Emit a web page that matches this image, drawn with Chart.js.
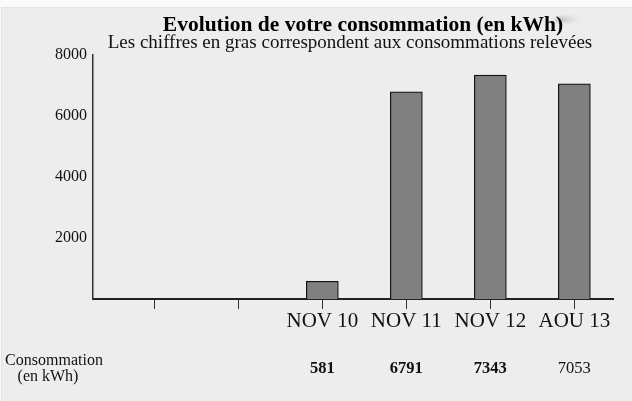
<!DOCTYPE html>
<html>
<head>
<meta charset="utf-8">
<script src="https://cdn.jsdelivr.net/npm/chart.js@4.4.1/dist/chart.umd.min.js"></script>
<style>
  html, body { margin: 0; padding: 0; background: #fafafa; }
  #wrap { position: relative; width: 632px; height: 401px; }
</style>
</head>
<body>
<div id="wrap"><canvas id="c" width="632" height="401"></canvas></div>
<script>
// ---- data ----
const categories = ['', '', 'NOV 10', 'NOV 11', 'NOV 12', 'AOU 13'];
const consommation = [null, null, 581, 6791, 7343, 7053];
const releve = [false, false, true, true, true, false];
const yTicks = [0, 2000, 4000, 6000, 8000];
const titleText = 'Evolution de votre consommation (en kWh)';
const subtitleText = 'Les chiffres en gras correspondent aux consommations relevées';
const rowLabel = ['Consommation', '(en kWh)'];

const FONT = "'Liberation Serif', 'Times New Roman', serif";

const bgPlugin = {
  id: 'bg',
  beforeDraw(chart) {
    const ctx = chart.ctx;
    ctx.save();
    ctx.fillStyle = '#fbfbfb';
    ctx.fillRect(0, 0, chart.width, chart.height);
    ctx.fillStyle = '#ededed';
    ctx.fillRect(1, 7, chart.width - 1, chart.height - 7);
    ctx.strokeStyle = '#e3e3e3';
    ctx.lineWidth = 1;
    ctx.strokeRect(1.5, 7.5, chart.width, chart.height);
    // faint grey smudge right of the title
    const g = ctx.createLinearGradient(556, 0, 586, 0);
    g.addColorStop(0, 'rgba(170,170,170,0.85)');
    g.addColorStop(1, 'rgba(237,237,237,0)');
    ctx.fillStyle = g;
    ctx.filter = 'blur(1.5px)';
    ctx.beginPath();
    ctx.ellipse(570, 19.5, 15, 3.6, 0, 0, Math.PI * 2);
    ctx.fill();
    ctx.filter = 'none';
    ctx.restore();
  }
};

const shiftPlugin = {
  id: 'shiftTitles',
  afterLayout(chart) {
    chart.boxes.forEach(b => {
      if (!b.options || typeof b.options.text !== 'string') return;
      let dx = 0;
      if (b.options.text === titleText) dx = 10;
      else if (b.options.text === subtitleText) dx = -3;
      b.left += dx; b.right += dx;
    });
  }
};

const tablePlugin = {
  id: 'table',
  afterDraw(chart) {
    const ctx = chart.ctx;
    const xs = chart.scales.x;
    ctx.save();
    ctx.fillStyle = '#111';
    ctx.textAlign = 'center';
    ctx.textBaseline = 'middle';
    ctx.font = '16px ' + FONT;
    ctx.fillText(rowLabel[0], 54, 361);
    ctx.fillText(rowLabel[1], 48, 377);
    const yRow = chart.chartArea.bottom + 70;
    consommation.forEach((v, i) => {
      if (v === null) return;
      ctx.font = (releve[i] ? 'bold ' : '') + '16.5px ' + FONT;
      ctx.fillText(String(v), xs.getPixelForValue(i + 1), yRow);
    });
    ctx.restore();
  }
};

new Chart(document.getElementById('c'), {
  type: 'bar',
  data: {
    datasets: [{
      data: consommation.map((v, i) => ({ x: i + 1, y: v })),
      backgroundColor: '#808080',
      borderColor: '#111111',
      borderWidth: 1.2,
      barThickness: 32
    }]
  },
  options: {
    responsive: false,
    animation: false,
    events: [],
    layout: { padding: { left: 0, right: 19, top: 0, bottom: 52 } },
    plugins: {
      legend: { display: false },
      tooltip: { enabled: false },
      title: {
        display: true,
        text: titleText,
        fullSize: false,
        color: '#000',
        font: { family: FONT, size: 21.5, weight: 'bold', lineHeight: 0.9 },
        padding: { top: 15.3, bottom: 0 }
      },
      subtitle: {
        display: true,
        text: subtitleText,
        fullSize: false,
        color: '#111',
        font: { family: FONT, size: 19, weight: 'normal', lineHeight: 0.9 },
        padding: { top: 0, bottom: 3.25 }
      }
    },
    scales: {
      x: {
        type: 'linear',
        min: 0.27,
        max: 6.46,
        offset: false,
        afterBuildTicks(scale) {
          scale.ticks = categories.map((_, i) => ({ value: i + 1 }));
        },
        afterFit(scale) { scale.height = 50; },
        grid: {
          display: true,
          offset: false,
          drawOnChartArea: false,
          drawTicks: true,
          tickLength: 10,
          color: '#333',
          lineWidth: 1
        },
        border: { display: true, color: '#222', width: 2 },
        ticks: {
          autoSkip: false,
          maxRotation: 0,
          padding: 0,
          color: '#111',
          font: { family: FONT, size: 21 },
          callback: (v) => categories[Math.round(v) - 1] ?? ''
        }
      },
      y: {
        min: 0,
        max: 8000,
        afterBuildTicks(scale) {
          scale.ticks = yTicks.map(v => ({ value: v }));
        },
        afterFit(scale) { scale.width = 93; },
        grid: { display: false, drawTicks: false },
        border: { display: true, color: '#333', width: 1.5 },
        ticks: {
          padding: 6,
          color: '#111',
          font: { family: FONT, size: 16 },
          callback: (v) => v === 0 ? '' : String(v)
        }
      }
    }
  },
  plugins: [bgPlugin, shiftPlugin, tablePlugin]
});
</script>
</body>
</html>
